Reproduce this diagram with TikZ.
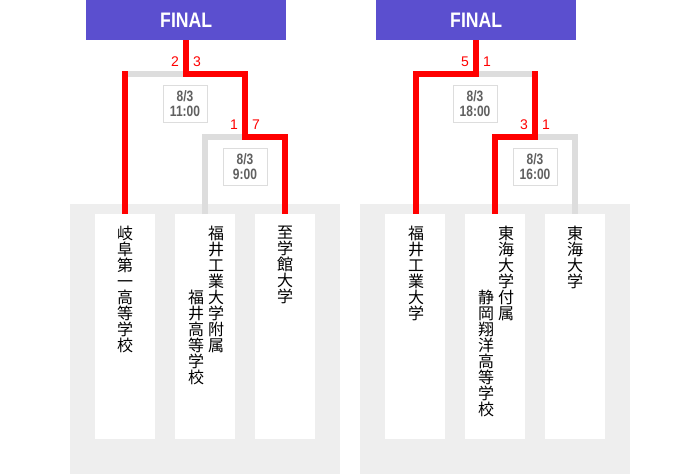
\documentclass[tikz,border=0pt]{standalone}
\usepackage{fontspec}
\setmainfont{Liberation Sans}
\newfontfamily\jpfont{Noto Sans CJK JP}
\definecolor{finalblue}{HTML}{5B4FCF}
\definecolor{panelgray}{HTML}{EEEEEE}
\definecolor{linegray}{HTML}{DDDDDD}
\definecolor{datetext}{HTML}{606060}
\definecolor{winred}{HTML}{FF0000}
\newcommand\narrowtxt[1]{\scalebox{0.8}[1]{#1}}
\tikzset{
  finalbox/.style={fill=finalblue, minimum width=200pt, minimum height=40pt, inner sep=0pt, anchor=north west,
    font=\fontsize{21}{21}\selectfont\bfseries, text=white},
  panel/.style={fill=panelgray, draw=none},
  teambox/.style={fill=white, draw=none, minimum width=60pt, minimum height=225pt, inner sep=0pt, anchor=north west},
  datebox/.style={fill=white, draw=linegray, line width=1pt, minimum width=44pt, minimum height=37pt, inner sep=0pt,
    align=center, font=\fontsize{15}{15}\selectfont\bfseries, text=datetext},
  score/.style={text=winred, font=\fontsize{14}{14}\selectfont, inner sep=0pt},
  vtext/.style={anchor=north, inner sep=0pt, align=center, font=\jpfont\fontsize{16}{16}\selectfont, text=black},
  winline/.style={draw=winred, line width=5.5pt, line join=miter, line cap=butt},
  loseline/.style={draw=linegray, line width=5.5pt, line join=miter, line cap=butt},
}
\begin{document}
\begin{tikzpicture}[x=1pt,y=-1pt]
\useasboundingbox (0,0) rectangle (700,474);

% panels
\fill[panel] (70,204) rectangle (340,474);
\fill[panel] (360,204) rectangle (630,474);

% FINAL boxes
\node[finalbox] (finalL) at (86,0) {\scalebox{0.84}[1]{FINAL}};
\node[finalbox] (finalR) at (376,0) {\scalebox{0.84}[1]{FINAL}};

% team boxes
\node[teambox] (tL1) at (95,214) {};
\node[teambox] (tL2) at (175,214) {};
\node[teambox] (tL3) at (255,214) {};
\node[teambox] (tR1) at (385,214) {};
\node[teambox] (tR2) at (465,214) {};
\node[teambox] (tR3) at (545,214) {};

% junction coordinates (left)
\coordinate (fL) at (186,40);
\coordinate (jL1) at (186,74);
\coordinate (aL1) at (125,74);
\coordinate (aL1t) at (125,71.25);
\coordinate (bL1) at (245,74);
\coordinate (jL2) at (245,137);
\coordinate (aL2) at (205,137);
\coordinate (bL2) at (285,137);
\coordinate (eL1) at (125,214);
\coordinate (eL2) at (205,214);
\coordinate (eL3) at (285,214);

% junction coordinates (right)
\coordinate (fR) at (476,40);
\coordinate (jR1) at (476,74);
\coordinate (aR1) at (416,74);
\coordinate (bR1) at (535,74);
\coordinate (bR1t) at (535,71.25);
\coordinate (jR2) at (535,137);
\coordinate (aR2) at (495,137);
\coordinate (bR2) at (575,137);
\coordinate (eR1) at (416,214);
\coordinate (eR2) at (495,214);
\coordinate (eR3) at (575,214);

% losing lines
\draw[loseline] (aL1) -- (jL1);
\draw[loseline] (eL2) -- (aL2) -- (jL2);
\draw[loseline] (jR1) -- (bR1);
\draw[loseline] (jR2) -- (bR2) -- (eR3);

% winning lines
\draw[winline] (fL) -- (jL1) -- (bL1) -- (jL2) -- (bL2) -- (eL3);
\draw[winline] (aL1t) -- (eL1);
\draw[winline] (fR) -- (jR1) -- (aR1) -- (eR1);
\draw[winline] (bR1t) -- (jR2) -- (aR2) -- (eR2);

% date boxes
\node[datebox] (dL1) at (185,104) {\narrowtxt{8/3}\\\narrowtxt{11:00}};
\node[datebox] (dL2) at (245,166.5) {\narrowtxt{8/3}\\\narrowtxt{9:00}};
\node[datebox] (dR1) at (475,104) {\narrowtxt{8/3}\\\narrowtxt{18:00}};
\node[datebox] (dR2) at (535,166.5) {\narrowtxt{8/3}\\\narrowtxt{16:00}};

% scores
\node[score] (sL1a) at (175,62) {2};
\node[score] (sL1b) at (197,62) {3};
\node[score] (sL2a) at (234,125) {1};
\node[score] (sL2b) at (256,125) {7};
\node[score] (sR1a) at (465,62) {5};
\node[score] (sR1b) at (487,62) {1};
\node[score] (sR2a) at (524,125) {3};
\node[score] (sR2b) at (546,125) {1};

% team names (vertical)
\node[vtext] (nL1) at (125,226) {岐\\阜\\第\\一\\高\\等\\学\\校};
\node[vtext] (nL2a) at (216,226) {福\\井\\工\\業\\大\\学\\附\\属};
\node[vtext] (nL2b) at (196,290) {福\\井\\高\\等\\学\\校};
\node[vtext] (nL3) at (285,226) {至\\学\\館\\大\\学};
\node[vtext] (nR1) at (416,226) {福\\井\\工\\業\\大\\学};
\node[vtext] (nR2a) at (506,226) {東\\海\\大\\学\\付\\属};
\node[vtext] (nR2b) at (486,290) {静\\岡\\翔\\洋\\高\\等\\学\\校};
\node[vtext] (nR3) at (575,226) {東\\海\\大\\学};
\end{tikzpicture}
\end{document}
